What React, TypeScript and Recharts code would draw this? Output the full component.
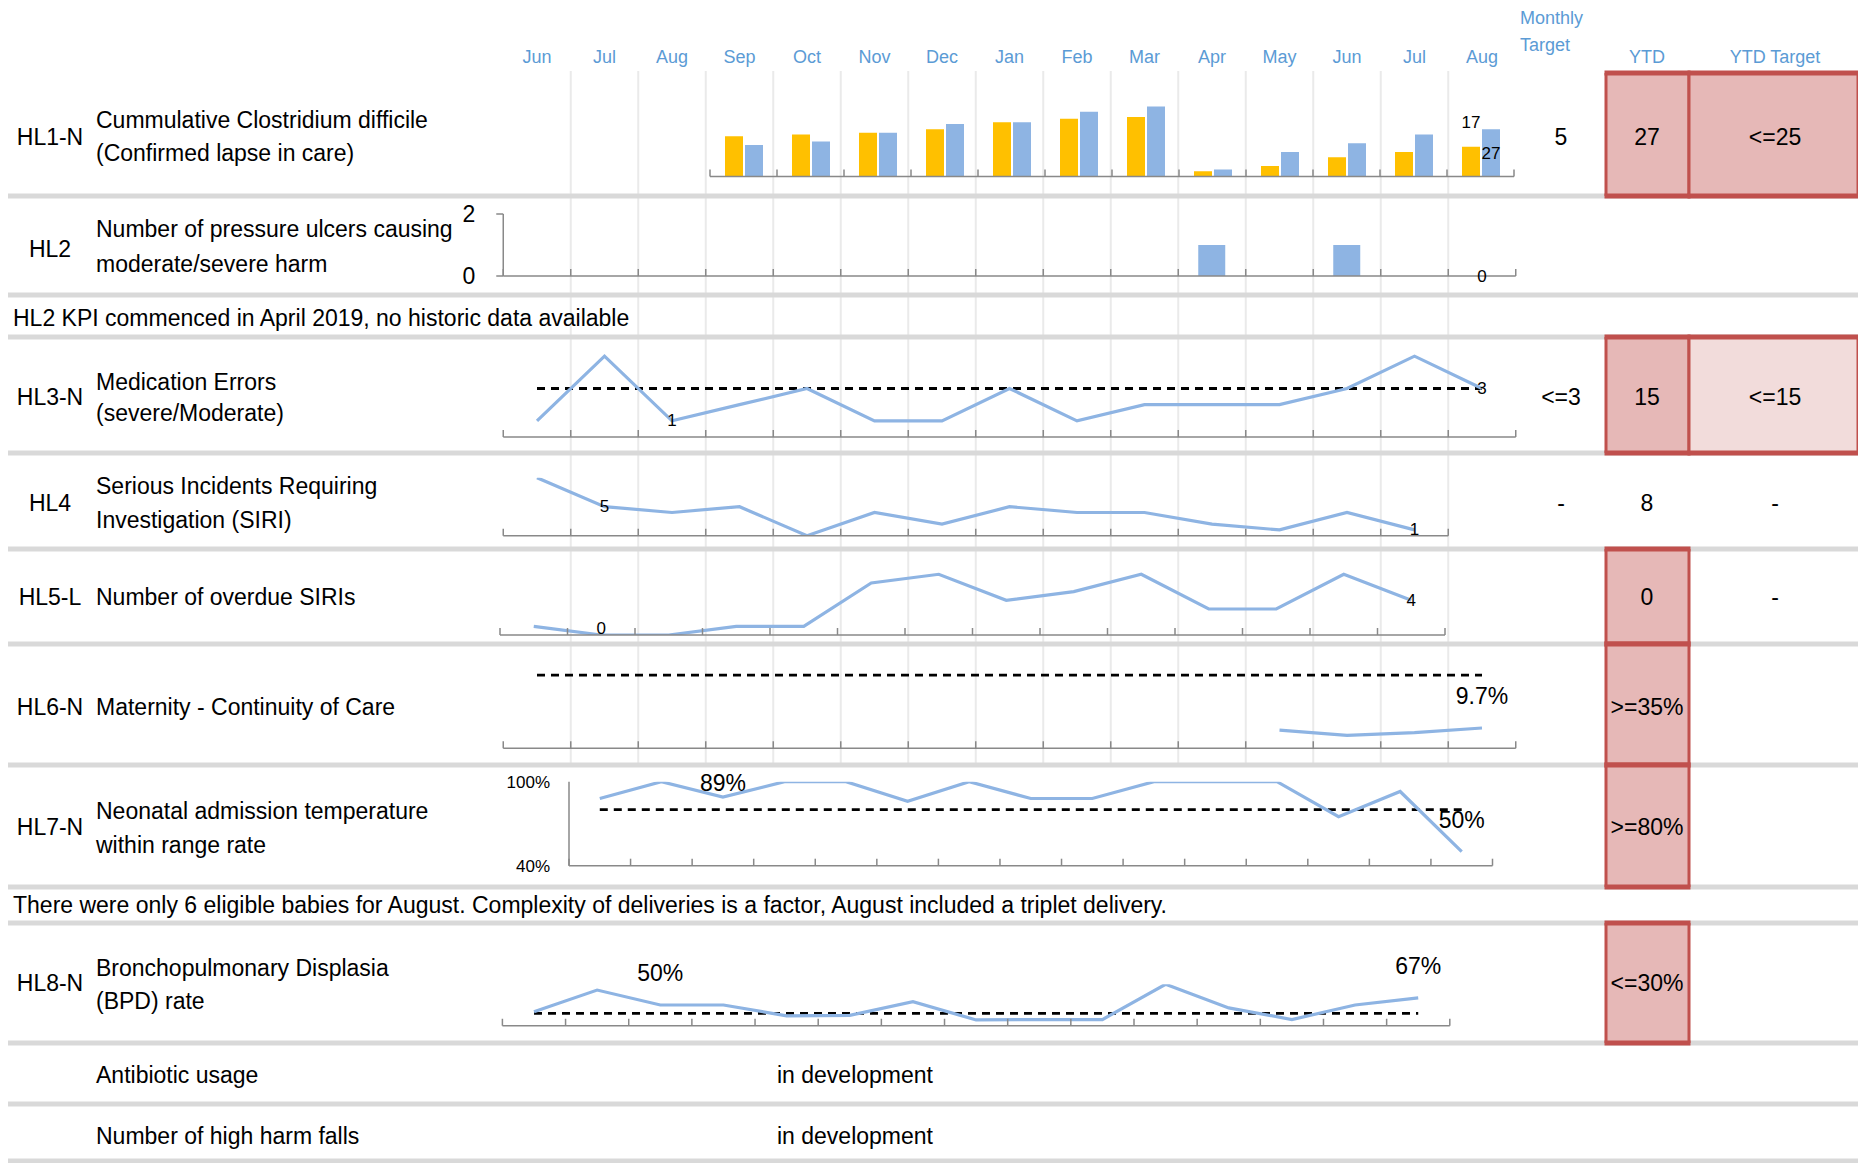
import React from 'react';
import { ComposedChart, Bar, Line, XAxis, YAxis, LabelList } from 'recharts';

const W = 1858;
const H = 1163;
const FONT = '"Liberation Sans", Arial, sans-serif';
const TEXT_SIZE = 23;
const SMALL_SIZE = 17;
const HEAD_BLUE = '#5B9BD5';
const LINE_BLUE = '#8EB4E3';
const BAR_ORANGE = '#FFC000';
const AXIS_GREY = '#898989';
const SEP_GREY = '#D9D9D9';
const GRID_GREY = '#EAEAEA';
const CELL_RED = '#E6B8B7';
const CELL_PINK = '#F2DCDB';
const BORDER_RED = '#C0504D';
const AXIS_H = 1;
const TICK_LEN = 7;

// month i sits at X0 + STEP * i on the shared timeline
const X0 = 537;
const STEP = 67.5;
const xOf = (i: number) => X0 + STEP * i;

const MONTHS = ['Jun', 'Jul', 'Aug', 'Sep', 'Oct', 'Nov', 'Dec', 'Jan', 'Feb', 'Mar', 'Apr', 'May', 'Jun', 'Jul', 'Aug'];

// HL1 cumulative C. difficile, Sep..Aug
const CDIFF_MONTHS = ['Sep', 'Oct', 'Nov', 'Dec', 'Jan', 'Feb', 'Mar', 'Apr', 'May', 'Jun', 'Jul', 'Aug'];
const CDIFF_PRIOR = [23, 24, 25, 27, 31, 33, 34, 3, 6, 11, 14, 17];
const CDIFF_CURRENT = [18, 20, 25, 30, 31, 37, 40, 4, 14, 19, 24, 27];

// HL2 pressure ulcers (from April 2019)
const ULCERS = [null, null, null, null, null, null, null, null, null, null, 1, 0, 1, 0, 0];

// HL3 medication errors
const MED_ERRORS = [1, 5, 1, 2, 3, 1, 1, 3, 1, 2, 2, 2, 3, 5, 3];
const MED_TARGET = 3;

// HL4 SIRIs and HL5 overdue SIRIs, Jun..Jul
const SIRI = [10, 5, 4, 5, 0, 4, 2, 5, 4, 4, 2, 1, 4, 1];
const OVERDUE_SIRI = [1, 0, 0, 1, 1, 6, 7, 4, 5, 7, 3, 3, 7, 4];

// HL6 continuity of care (%)
const CONTINUITY = [null, null, null, null, null, null, null, null, null, null, null, 8.7, 6.2, 7.5, 9.7];
const CONTINUITY_TARGET = 35;

// HL7 neonatal admission temperature within range (%)
const NEONATAL_TEMP = [88, 100, 89, 100, 100, 86, 100, 88, 88, 100, 100, 100, 75, 93, 50];
const NEONATAL_TARGET = 80;

// HL8 BPD rate (%)
const BPD = [34, 86, 50, 50, 24, 25, 58, 14, 15, 15, 100, 43, 15, 50, 67];
const BPD_TARGET = 30;

type Pt = { k: number; v: number | null; t?: number; lbl?: number | null };
const series = (vals: (number | null)[], target?: number, labelled: number[] = []): Pt[] =>
  vals.map((v, k) => ({ k, v, t: target, lbl: labelled.includes(k) ? v : null }));

const bounds = (n: number) => Array.from({ length: n + 1 }, (_, j) => j - 0.5);

// plot box -> chart margin for a full-page chart (bottom axis reserves AXIS_H)
const box = (left: number, top: number, right: number, bottom: number) => ({
  left,
  top,
  right: W - right,
  bottom: H - bottom - AXIS_H,
});

const layer: React.CSSProperties = { position: 'absolute', left: 0, top: 0 };

// tick mark drawn upward from the axis at each category boundary
const upTick = (len: number, stroke: string, width: number) => (p: any) => (
  <line
    key={`t${p.index}`}
    x1={p.x}
    x2={p.x}
    y1={p.y}
    y2={p.y - len}
    stroke={stroke}
    strokeWidth={width}
  />
);

const tickAxis = (n: number) => (
  <XAxis
    type="number"
    dataKey="k"
    domain={[-0.5, n - 0.5]}
    ticks={bounds(n)}
    interval={0}
    allowDataOverflow
    tick={upTick(TICK_LEN, AXIS_GREY, 1.5)}
    tickLine={false}
    tickSize={0}
    tickMargin={0}
    height={AXIS_H}
    axisLine={{ stroke: AXIS_GREY, strokeWidth: 1.5 }}
  />
);

const labelAt =
  (show: number[] | null, opts: { dy?: number[]; size?: number; fmt?: (v: any) => string; bar?: boolean }) =>
  (p: any) => {
    const pos = show ? show.indexOf(p.index) : 0;
    if (pos < 0 || p.value == null) return null;
    const dy = opts.dy ? opts.dy[pos] : 0;
    const x = opts.bar ? p.x + p.width / 2 : p.x;
    return (
      <text
        key={`l${p.index}`}
        x={x}
        y={p.y + dy}
        textAnchor="middle"
        dominantBaseline="central"
        fontFamily={FONT}
        fontSize={opts.size ?? SMALL_SIZE}
        fill="#000"
      >
        {opts.fmt ? opts.fmt(p.value) : p.value}
      </text>
    );
  };

const pct = (v: number) => `${v}%`;

const lineProps = {
  type: 'linear' as const,
  stroke: LINE_BLUE,
  strokeWidth: 3.2,
  dot: false,
  activeDot: false,
  isAnimationActive: false,
  connectNulls: false,
};

const targetProps = {
  type: 'linear' as const,
  dataKey: 't',
  stroke: '#000',
  strokeWidth: 2.8,
  strokeDasharray: '8 6',
  dot: false,
  activeDot: false,
  isAnimationActive: false,
};

// light vertical gridlines between the months, behind every row chart
function GridChart() {
  const data = series(MONTHS.map(() => 0));
  const top = 71;
  const bottom = 765;
  return (
    <div style={layer}>
      <ComposedChart width={W} height={H} data={data} margin={box(xOf(-0.5), top, xOf(14.5), bottom)}>
        <XAxis
          type="number"
          dataKey="k"
          domain={[-0.5, 14.5]}
          ticks={bounds(15).slice(1, -1)}
          interval={0}
          allowDataOverflow
          height={AXIS_H}
          tick={upTick(bottom - top, GRID_GREY, 2)}
          tickLine={false}
          tickSize={0}
          tickMargin={0}
          axisLine={false}
        />
        <YAxis hide domain={[0, 1]} />
        <Line dataKey="v" stroke="none" dot={false} activeDot={false} isAnimationActive={false} />
      </ComposedChart>
    </div>
  );
}

function CdiffChart() {
  const data = CDIFF_MONTHS.map((m, k) => ({ k, m, prior: CDIFF_PRIOR[k], current: CDIFF_CURRENT[k] }));
  const last = [CDIFF_MONTHS.length - 1];
  return (
    <div style={layer}>
      <ComposedChart width={W} height={H} data={data} margin={box(710, 97.7, 1514, 176.5)} barGap={2}>
        <XAxis xAxisId="c" type="category" dataKey="m" hide />
        {tickAxis(CDIFF_MONTHS.length)}
        <YAxis hide domain={[0, 45]} allowDataOverflow />
        <Bar xAxisId="c" dataKey="prior" fill={BAR_ORANGE} barSize={18} isAnimationActive={false}>
          <LabelList dataKey="prior" content={labelAt(last, { dy: [-24], bar: true })} />
        </Bar>
        <Bar xAxisId="c" dataKey="current" fill={LINE_BLUE} barSize={18} isAnimationActive={false}>
          <LabelList dataKey="current" content={labelAt(last, { dy: [24], bar: true })} />
        </Bar>
      </ComposedChart>
    </div>
  );
}

function UlcerChart() {
  const data = series(ULCERS, undefined, [14]);
  return (
    <div style={layer}>
      <ComposedChart width={W} height={H} data={data} margin={box(xOf(-0.5) - 60, 214, xOf(14.5), 276)}>
        <XAxis xAxisId="c" type="category" dataKey="k" hide />
        {tickAxis(15)}
        <YAxis
          width={60}
          domain={[0, 2]}
          ticks={[0, 2]}
          interval={0}
          tickSize={7}
          tickMargin={21}
          axisLine={{ stroke: AXIS_GREY, strokeWidth: 1.5 }}
          tickLine={{ stroke: AXIS_GREY, strokeWidth: 1.5 }}
          tick={{ fontSize: TEXT_SIZE, fill: '#000', fontFamily: FONT }}
        />
        <Bar xAxisId="c" dataKey="v" fill={LINE_BLUE} barSize={27} isAnimationActive={false} />
        {/* value label for the latest month, placed at its bar position */}
        <Line xAxisId="c" dataKey="lbl" stroke="none" dot={false} activeDot={false} isAnimationActive={false}>
          <LabelList dataKey="lbl" content={labelAt(null, {})} />
        </Line>
      </ComposedChart>
    </div>
  );
}

function LineRow(props: {
  vals: (number | null)[];
  target?: number;
  n: number;
  plot: [number, number, number, number];
  domain: [number, number];
  labels: number[];
  dy?: number[];
  size?: number;
  fmt?: (v: any) => string;
  yAxis?: React.ReactNode;
  yWidth?: number;
}) {
  const data = series(props.vals, props.target);
  const [l, t, r, b] = props.plot;
  const yw = props.yWidth ?? 0;
  return (
    <div style={layer}>
      <ComposedChart width={W} height={H} data={data} margin={box(l - yw, t, r, b)}>
        {tickAxis(props.n)}
        {props.yAxis ?? <YAxis hide domain={props.domain} allowDataOverflow />}
        {props.target !== undefined && <Line {...targetProps} />}
        <Line {...lineProps} dataKey="v">
          <LabelList
            dataKey="v"
            content={labelAt(props.labels, { dy: props.dy, size: props.size, fmt: props.fmt })}
          />
        </Line>
      </ComposedChart>
    </div>
  );
}

const SEPARATORS = [196, 295, 337, 453, 549, 644, 765, 887, 923, 1043, 1104, 1161];

const CELLS = [
  { x: 1606, w: 83, top: 73, bottom: 196, fill: CELL_RED },
  { x: 1689, w: 169, top: 73, bottom: 196, fill: CELL_RED },
  { x: 1606, w: 83, top: 337, bottom: 453, fill: CELL_RED },
  { x: 1689, w: 169, top: 337, bottom: 453, fill: CELL_PINK },
  { x: 1606, w: 83, top: 549, bottom: 644, fill: CELL_RED },
  { x: 1606, w: 83, top: 644, bottom: 765, fill: CELL_RED },
  { x: 1606, w: 83, top: 765, bottom: 887, fill: CELL_RED },
  { x: 1606, w: 83, top: 923, bottom: 1043, fill: CELL_RED },
];

type RowText = { code?: string; codeY?: number; lines: [string, number][] };
const ROWS: RowText[] = [
  { code: 'HL1-N', codeY: 137, lines: [['Cummulative Clostridium difficile', 120], ['(Confirmed lapse in care)', 153]] },
  { code: 'HL2', codeY: 249, lines: [['Number of pressure ulcers causing', 229], ['moderate/severe harm', 264]] },
  { code: 'HL3-N', codeY: 397, lines: [['Medication Errors', 382], ['(severe/Moderate)', 413]] },
  { code: 'HL4', codeY: 503, lines: [['Serious Incidents Requiring', 486], ['Investigation (SIRI)', 520]] },
  { code: 'HL5-L', codeY: 597, lines: [['Number of overdue SIRIs', 597]] },
  { code: 'HL6-N', codeY: 707, lines: [['Maternity - Continuity of Care', 707]] },
  { code: 'HL7-N', codeY: 827, lines: [['Neonatal admission temperature', 811], ['within range rate', 845]] },
  { code: 'HL8-N', codeY: 983, lines: [['Bronchopulmonary Displasia', 968], ['(BPD) rate', 1001]] },
  { lines: [['Antibiotic usage', 1075]] },
  { lines: [['Number of high harm falls', 1136]] },
];

const NOTES: [string, number][] = [
  ['HL2 KPI commenced in April 2019, no historic data available', 318],
  ['There were only 6 eligible babies for August. Complexity of deliveries is a factor, August included a triplet delivery.', 905],
];

const IN_DEVELOPMENT = [1075, 1136];

// right-hand columns: [text, y]
const MONTHLY_TARGET: [string, number][] = [['5', 137], ['<=3', 397], ['-', 503]];
const YTD: [string, number][] = [
  ['27', 137], ['15', 397], ['8', 503], ['0', 597], ['>=35%', 707], ['>=80%', 827], ['<=30%', 983],
];
const YTD_TARGET: [string, number][] = [['<=25', 137], ['<=15', 397], ['-', 503], ['-', 597]];

const T = (p: { x: number; y: number; anchor?: 'start' | 'middle' | 'end'; size?: number; fill?: string; children: React.ReactNode }) => (
  <text
    x={p.x}
    y={p.y}
    textAnchor={p.anchor ?? 'start'}
    dominantBaseline="central"
    fontFamily={FONT}
    fontSize={p.size ?? TEXT_SIZE}
    fill={p.fill ?? '#000'}
  >
    {p.children}
  </text>
);

function Separators() {
  return (
    <svg width={W} height={H} style={layer}>
      {SEPARATORS.map((y) => (
        <rect key={y} x={8} y={y - 2.5} width={W - 8} height={5} fill={SEP_GREY} />
      ))}
    </svg>
  );
}

function Table() {
  return (
    <svg width={W} height={H} style={layer}>
      {CELLS.map((c, i) => (
        <g key={i}>
          <rect x={c.x} y={c.top} width={c.w} height={c.bottom - c.top} fill={c.fill} />
          <rect x={c.x - 1.5} y={c.top} width={3} height={c.bottom - c.top} fill={BORDER_RED} />
          <rect x={c.x + c.w - 1.5} y={c.top} width={3} height={c.bottom - c.top} fill={BORDER_RED} />
          <rect x={c.x - 1.5} y={c.top - 2.5} width={c.w + 3} height={5} fill={BORDER_RED} />
          <rect x={c.x - 1.5} y={c.bottom - 2.5} width={c.w + 3} height={5} fill={BORDER_RED} />
        </g>
      ))}
      {MONTHS.map((m, i) => (
        <T key={i} x={xOf(i)} y={57} anchor="middle" size={18} fill={HEAD_BLUE}>
          {m}
        </T>
      ))}
      <T x={1520} y={18} size={18} fill={HEAD_BLUE}>Monthly</T>
      <T x={1520} y={45} size={18} fill={HEAD_BLUE}>Target</T>
      <T x={1647} y={57} anchor="middle" size={18} fill={HEAD_BLUE}>YTD</T>
      <T x={1775} y={57} anchor="middle" size={18} fill={HEAD_BLUE}>YTD Target</T>
      {ROWS.map((r, i) => (
        <g key={i}>
          {r.code && (
            <T x={50} y={r.codeY!} anchor="middle">
              {r.code}
            </T>
          )}
          {r.lines.map(([s, y]) => (
            <T key={s} x={96} y={y}>
              {s}
            </T>
          ))}
        </g>
      ))}
      {NOTES.map(([s, y]) => (
        <T key={s} x={13} y={y}>
          {s}
        </T>
      ))}
      {IN_DEVELOPMENT.map((y) => (
        <T key={y} x={777} y={y}>
          in development
        </T>
      ))}
      {MONTHLY_TARGET.map(([s, y]) => (
        <T key={y} x={1561} y={y} anchor="middle">
          {s}
        </T>
      ))}
      {YTD.map(([s, y]) => (
        <T key={y} x={1647} y={y} anchor="middle">
          {s}
        </T>
      ))}
      {YTD_TARGET.map(([s, y]) => (
        <T key={y} x={1775} y={y} anchor="middle">
          {s}
        </T>
      ))}
    </svg>
  );
}

export default function App() {
  return (
    <div style={{ position: 'absolute', left: 0, top: 0, width: W, height: H, background: '#fff', overflow: 'hidden' }}>
      <GridChart />
      <Separators />
      <Table />
      <CdiffChart />
      <UlcerChart />
      <LineRow vals={MED_ERRORS} target={MED_TARGET} n={15} plot={[xOf(-0.5), 340, xOf(14.5), 437]} domain={[0, 6]} labels={[2, 14]} />
      <LineRow vals={SIRI} n={14} plot={[xOf(-0.5), 477.7, xOf(13.5), 535.7]} domain={[0, 10]} labels={[1, 13]} />
      <LineRow vals={OVERDUE_SIRI} n={14} plot={[500, 565.6, 1445, 635]} domain={[0, 8]} labels={[1, 13]} dy={[-7, 0]} />
      <LineRow
        vals={CONTINUITY}
        target={CONTINUITY_TARGET}
        n={15}
        plot={[xOf(-0.5), 664.7, xOf(14.5), 748.3]}
        domain={[0, 40]}
        labels={[14]}
        dy={[-32]}
        size={TEXT_SIZE}
        fmt={pct}
      />
      <LineRow
        vals={NEONATAL_TEMP}
        target={NEONATAL_TARGET}
        n={15}
        plot={[569, 781.7, 1492.5, 865.7]}
        domain={[40, 100]}
        labels={[2, 14]}
        dy={[-14, -32]}
        size={TEXT_SIZE}
        fmt={pct}
        yWidth={60}
        yAxis={
          <YAxis
            width={60}
            domain={[40, 100]}
            ticks={[40, 100]}
            interval={0}
            allowDataOverflow
            tickLine={false}
            tickSize={0}
            tickMargin={19}
            tickFormatter={pct}
            axisLine={{ stroke: AXIS_GREY, strokeWidth: 1.5 }}
            tick={{ fontSize: SMALL_SIZE, fill: '#000', fontFamily: FONT }}
          />
        }
      />
      <LineRow
        vals={BPD}
        target={BPD_TARGET}
        n={15}
        plot={[502.4, 984.25, 1449.8, 1025.75]}
        domain={[0, 100]}
        labels={[2, 14]}
        dy={[-32, -32]}
        size={TEXT_SIZE}
        fmt={pct}
      />
    </div>
  );
}
